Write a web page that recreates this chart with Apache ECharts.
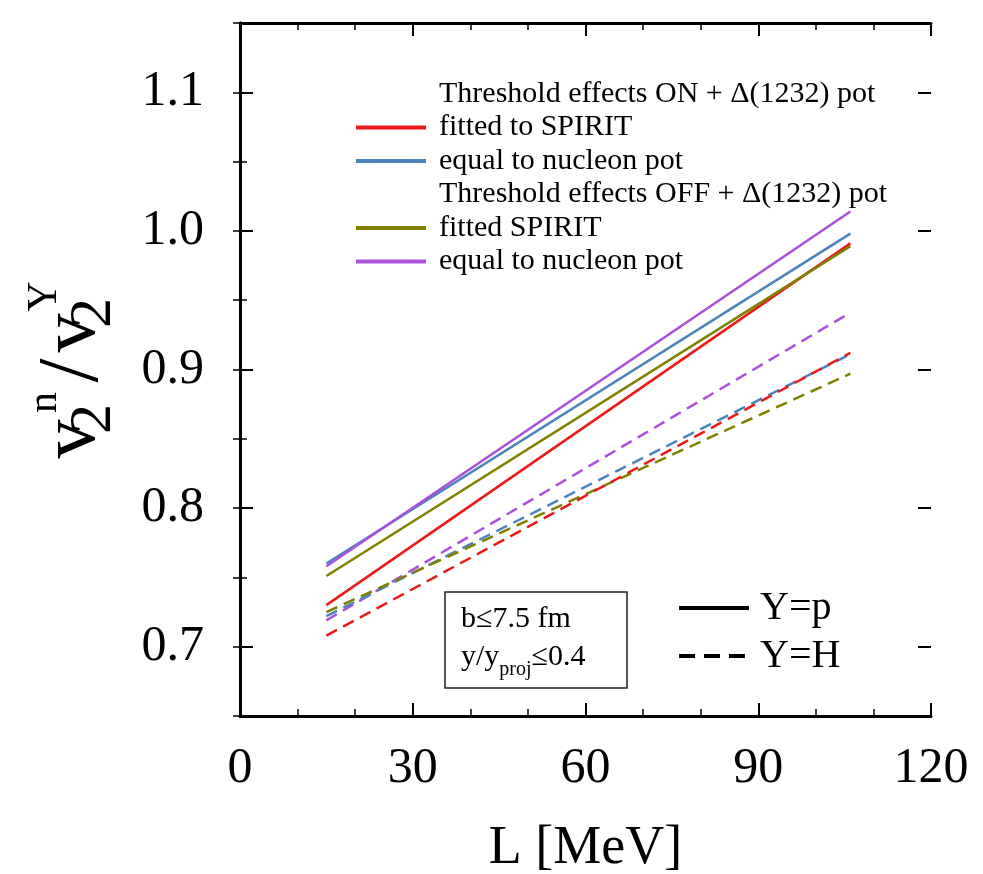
<!DOCTYPE html>
<html>
<head>
<meta charset="utf-8">
<script src="https://cdn.jsdelivr.net/npm/echarts@6/dist/echarts.min.js"></script>
<style>
  html, body { margin: 0; padding: 0; background: #ffffff; }
  #chart { width: 983px; height: 874px; }
</style>
</head>
<body>
<div id="chart"></div>
<script>
// Slope parameter L [MeV] at the two ends of each fitted line
const L = [15, 106];

// Y = p (solid)
const onFittedP   = [0.730, 0.991];
const onNucleonP  = [0.760, 0.998];
const offFittedP  = [0.751, 0.989];
const offNucleonP = [0.758, 1.014];

// Y = H (dashed)
const onFittedH   = [0.708, 0.912];
const onNucleonH  = [0.722, 0.911];
const offFittedH  = [0.725, 0.897];
const offNucleonH = [0.719, 0.941];

// Axis ticks
const xTicks = [0, 30, 60, 90, 120];
const yLabels = [0.7, 0.8, 0.9, 1.0, 1.1];

// Legend texts
const headerOn  = 'Threshold effects ON + \u0394(1232) pot';
const headerOff = 'Threshold effects OFF + \u0394(1232) pot';
const legendText = {
  onFitted: 'fitted to SPIRIT',
  onNucleon: 'equal to nucleon pot',
  offFitted: 'fitted SPIRIT',
  offNucleon: 'equal to nucleon pot'
};

const colors = {
  onFitted: '#ea1a1a',
  onNucleon: '#4b84ba',
  offFitted: '#808000',
  offNucleon: '#aa50dc'
};

const FONT = '"Liberation Serif", "DejaVu Serif", serif';

function pairs(values) {
  return L.map((x, i) => [x, values[i]]);
}

function lineSeries(key, values, dashed) {
  return {
    name: key,
    type: 'line',
    xAxisIndex: 0,
    yAxisIndex: 0,
    data: pairs(values),
    symbol: 'none',
    silent: true,
    lineStyle: { color: colors[key], width: 2.5, type: dashed ? [12, 7] : 'solid' },
    itemStyle: { color: colors[key] },
    z: 3
  };
}

function emptySeries(name, color, type) {
  return {
    name: name,
    type: 'line',
    xAxisIndex: 0,
    yAxisIndex: 0,
    data: [],
    symbol: 'none',
    lineStyle: { color: color, width: 3, type: type },
    itemStyle: { color: color }
  };
}

const gridRect = { left: 240, top: 23, width: 691, height: 693, containLabel: false, outerBoundsMode: 'none' };
const black = '#000000';

const chart = echarts.init(document.getElementById('chart'), null, { renderer: 'canvas' });

const option = {
  backgroundColor: '#ffffff',
  animation: false,
  grid: [
    Object.assign({}, gridRect),
    Object.assign({}, gridRect)
  ],
  xAxis: [
    {
      type: 'value', gridIndex: 0, position: 'bottom',
      min: 0, max: 120, interval: 30,
      name: 'L [MeV]', nameLocation: 'middle', nameGap: 106,
      nameTextStyle: { fontFamily: FONT, fontSize: 54, color: black },
      axisLine: { show: true, lineStyle: { color: black, width: 3 } },
      axisTick: { show: true, inside: true, length: 13, lineStyle: { color: black, width: 2 } },
      minorTick: { show: true, splitNumber: 3, length: 7, lineStyle: { color: black, width: 1.5 } },
      axisLabel: { fontFamily: FONT, fontSize: 50, color: black, margin: 28,
        customValues: xTicks, formatter: v => String(v) },
      splitLine: { show: false }
    },
    {
      type: 'value', gridIndex: 0, position: 'top',
      min: 0, max: 120, interval: 30,
      axisLine: { show: true, lineStyle: { color: black, width: 3 } },
      axisTick: { show: true, inside: true, length: 13, lineStyle: { color: black, width: 2 } },
      minorTick: { show: true, splitNumber: 3, length: 7, lineStyle: { color: black, width: 1.5 } },
      axisLabel: { show: false },
      splitLine: { show: false }
    },
    {
      type: 'value', gridIndex: 1, position: 'bottom', min: 0, max: 120,
      show: false
    }
  ],
  yAxis: [
    {
      type: 'value', gridIndex: 0, position: 'left',
      min: 0.65, max: 1.15, interval: 0.05,
      name: '{v|v}{sb|2}{sp|n}{sl|/}{v|v}{sb|2}{sp|Y}',
      nameLocation: 'middle', nameGap: 116, nameRotate: 90,
      nameTextStyle: {
        fontFamily: FONT, color: black, fontSize: 70, lineHeight: 100,
        rich: {
          v:  { fontFamily: FONT, fontSize: 78, color: black, verticalAlign: 'middle', lineHeight: 100 },
          sb: { fontFamily: FONT, fontSize: 60, color: black, verticalAlign: 'bottom', lineHeight: 100, width: 1 },
          sp: { fontFamily: FONT, fontSize: 42, color: black, verticalAlign: 'top', lineHeight: 100, width: 32 },
          sl: { fontFamily: FONT, fontSize: 86, color: black, verticalAlign: 'middle', lineHeight: 100, padding: [0, 6, 0, 4] }
        }
      },
      axisLine: { show: true, lineStyle: { color: black, width: 3 } },
      axisTick: { show: true, inside: true, length: 7, lineStyle: { color: black, width: 1.5 } },
      axisLabel: { fontFamily: FONT, fontSize: 50, color: black, margin: 36,
        customValues: yLabels, formatter: v => v.toFixed(1) },
      splitLine: { show: false }
    },
    {
      type: 'value', gridIndex: 0, position: 'right',
      min: 0.65, max: 1.15, interval: 0.05,
      axisLine: { show: true, lineStyle: { color: black, width: 3 } },
      axisTick: { show: true, inside: true, length: 7, lineStyle: { color: black, width: 1.5 } },
      axisLabel: { show: false },
      splitLine: { show: false }
    },
    {
      type: 'value', gridIndex: 1, position: 'left',
      min: 0.65, max: 1.15, interval: 0.05,
      axisLine: { show: false },
      axisTick: { show: true, inside: true, length: 13, customValues: yLabels,
        lineStyle: { color: black, width: 2 } },
      axisLabel: { show: false },
      splitLine: { show: false }
    },
    {
      type: 'value', gridIndex: 1, position: 'right',
      min: 0.65, max: 1.15, interval: 0.05,
      axisLine: { show: false },
      axisTick: { show: true, inside: true, length: 13, customValues: yLabels,
        lineStyle: { color: black, width: 2 } },
      axisLabel: { show: false },
      splitLine: { show: false }
    }
  ],
  title: {
    text: 'b\u22647.5 fm\ny/y{s|proj}\u22640.4',
    left: 445, top: 592,
    padding: [8, 42, 8, 16],
    borderColor: '#222222', borderWidth: 1.5,
    textStyle: {
      fontFamily: FONT, fontSize: 30, fontWeight: 'normal', color: black, lineHeight: 38,
      rich: {
        s: { fontFamily: FONT, fontSize: 20, color: black, verticalAlign: 'bottom', lineHeight: 38, padding: [0, 0, -4, 0] }
      }
    }
  },
  legend: [
    {
      orient: 'vertical',
      left: 354, top: 79, padding: 0,
      itemWidth: 70, itemHeight: 14, itemGap: 3.5,
      selectedMode: false,
      lineStyle: { width: 4 },
      itemStyle: { opacity: 0 },
      textStyle: { fontFamily: FONT, fontSize: 30, color: black, lineHeight: 30, padding: [0, 0, 0, 8] },
      formatter: name => legendText[name] || name,
      data: [
        { name: headerOn, icon: 'none' },
        'onFitted', 'onNucleon',
        { name: headerOff, icon: 'none' },
        'offFitted', 'offNucleon'
      ]
    },
    {
      orient: 'vertical',
      left: 677, top: 588, padding: 0,
      itemWidth: 70, itemHeight: 14, itemGap: 8,
      selectedMode: false,
      itemStyle: { opacity: 0 },
      textStyle: { fontFamily: FONT, fontSize: 40, color: black, lineHeight: 38, padding: [0, 0, 0, 6] },
      data: [
        { name: 'Y=p', lineStyle: { width: 4, type: 'solid', color: black } },
        { name: 'Y=H', lineStyle: { width: 4, type: [16, 9], color: black } }
      ]
    }
  ],
  series: [
    emptySeries(headerOn, '#ffffff', 'solid'),
    emptySeries(headerOff, '#ffffff', 'solid'),
    lineSeries('onFitted', onFittedP, false),
    lineSeries('onNucleon', onNucleonP, false),
    lineSeries('offFitted', offFittedP, false),
    lineSeries('offNucleon', offNucleonP, false),
    lineSeries('offNucleon', offNucleonH, true),
    lineSeries('onNucleon', onNucleonH, true),
    lineSeries('offFitted', offFittedH, true),
    lineSeries('onFitted', onFittedH, true),
    emptySeries('Y=p', black, 'solid'),
    emptySeries('Y=H', black, [16, 9])
  ]
};

chart.setOption(option);
</script>
</body>
</html>
